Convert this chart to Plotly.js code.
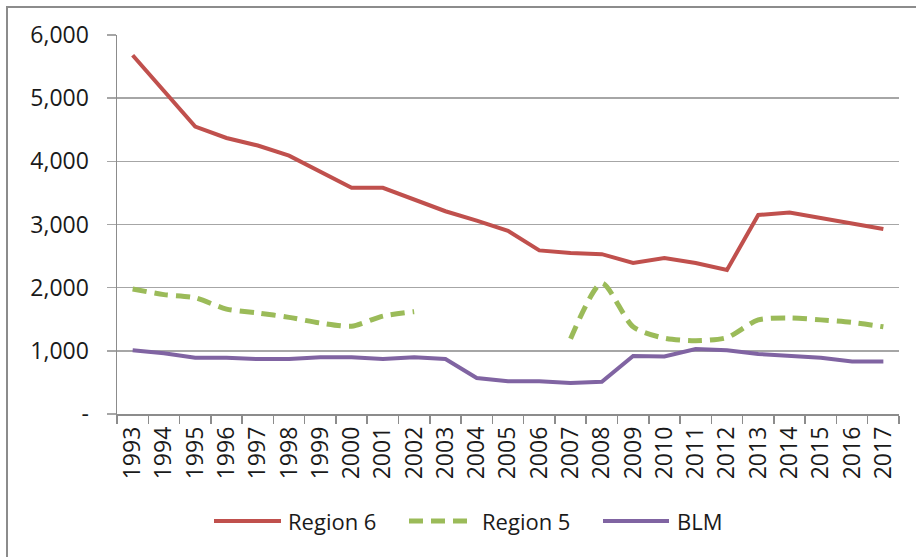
<!DOCTYPE html>
<html>
<head>
<meta charset="utf-8">
<script src="https://cdn.plot.ly/plotly-3.0.1.min.js"></script>
<style>
html,body{margin:0;padding:0;background:#fff;}
#chart{width:916px;height:557px;}
</style>
</head>
<body>
<div id="chart"></div>
<script>
const years = ["1993","1994","1995","1996","1997","1998","1999","2000","2001","2002","2003","2004","2005","2006","2007","2008","2009","2010","2011","2012","2013","2014","2015","2016","2017"];
const region6 = [5680,5110,4550,4370,4250,4090,3840,3580,3580,3390,3210,3060,2900,2590,2550,2530,2390,2470,2390,2280,3150,3190,3100,3010,2930];
const region5 = [1980,1890,1840,1660,1600,1530,1440,1390,1550,1620,null,null,null,null,1190,2070,1380,1200,1160,1210,1490,1520,1490,1450,1380];
const blm = [1010,960,890,890,870,870,900,900,870,900,870,570,520,520,490,510,920,910,1030,1010,950,920,890,830,830];
const seriesNames = ["Region 6","Region 5","BLM"];
const yTickVals = [0,1000,2000,3000,4000,5000,6000];
const yTickText = ["-","1,000","2,000","3,000","4,000","5,000","6,000"];

const colors = ["#C0504D","#9BBB59","#8064A2"];
const FONT = "Open Sans, Liberation Sans, sans-serif";

const traces = [
  {x: years, y: region6, name: seriesNames[0], type: "scatter", mode: "lines",
   line: {color: colors[0], width: 4}, showlegend: false},
  {x: years, y: region5, name: seriesNames[1], type: "scatter", mode: "lines",
   line: {color: colors[1], width: 5, dash: "14px,8px", shape: "spline", smoothing: 0.7},
   connectgaps: false, showlegend: false},
  {x: years, y: blm, name: seriesNames[2], type: "scatter", mode: "lines",
   line: {color: colors[2], width: 4}, showlegend: false}
];

// layout geometry (px)
const W = 916, H = 557;
const mL = 117, mR = 17, mT = 35, mB = 143;
const pw = W - mL - mR, ph = H - mT - mB;
function px2x(p){ return (p - mL) / pw; }
function py2y(p){ return 1 - (p - mT) / ph; }

const legendY = 521;
const legendItems = [
  {x0: 214, x1: 281, tx: 286, dash: "solid", w: 4},
  {x0: 409, x1: 474, tx: 480, dash: "14px,8px", w: 5},
  {x0: 603, x1: 669, tx: 675, dash: "solid", w: 4}
];

const shapes = [
  // outer border
  {type: "rect", xref: "paper", yref: "paper",
   x0: px2x(7), x1: px2x(W + 10), y0: py2y(7), y1: py2y(H + 10),
   line: {color: "#8c8c8c", width: 2}, fillcolor: "rgba(0,0,0,0)", layer: "below"}
];
const annotations = [];
legendItems.forEach((it, i) => {
  shapes.push({type: "line", xref: "paper", yref: "paper",
    x0: px2x(it.x0), x1: px2x(it.x1), y0: py2y(legendY), y1: py2y(legendY),
    line: {color: colors[i], width: it.w, dash: it.dash}});
  annotations.push({xref: "paper", yref: "paper", x: px2x(it.tx), y: py2y(legendY),
    xanchor: "left", yanchor: "middle", showarrow: false, text: seriesNames[i],
    font: {family: FONT, size: 22, color: "#1a1a1a"}});
});

const layout = {
  width: W, height: H,
  margin: {l: mL, r: mR, t: mT, b: mB, pad: 0},
  paper_bgcolor: "#ffffff", plot_bgcolor: "#ffffff",
  showlegend: false,
  font: {family: FONT, size: 22, color: "#1a1a1a"},
  xaxis: {
    type: "category", range: [-0.5, years.length - 0.5],
    showgrid: false, zeroline: false,
    showline: true, linecolor: "#8c8c8c", linewidth: 1.5,
    ticks: "outside", tickson: "boundaries", ticklen: 8, tickcolor: "#8c8c8c", tickwidth: 1.5,
    tickangle: -90, tickfont: {family: FONT, size: 23, color: "#1a1a1a"},
    ticklabelstandoff: 2
  },
  yaxis: {
    range: [0, 6000], tickvals: yTickVals, ticktext: yTickText,
    showgrid: true, gridcolor: "#a6a6a6", gridwidth: 1.5,
    zeroline: false, showline: true, linecolor: "#8c8c8c", linewidth: 1.5,
    ticks: "outside", ticklen: 9, tickcolor: "#a6a6a6", tickwidth: 1.5,
    tickfont: {family: FONT, size: 23, color: "#1a1a1a"},
    ticklabelstandoff: 13
  },
  shapes: shapes,
  annotations: annotations
};

Plotly.newPlot("chart", traces, layout, {staticPlot: true, displayModeBar: false});
</script>
</body>
</html>
